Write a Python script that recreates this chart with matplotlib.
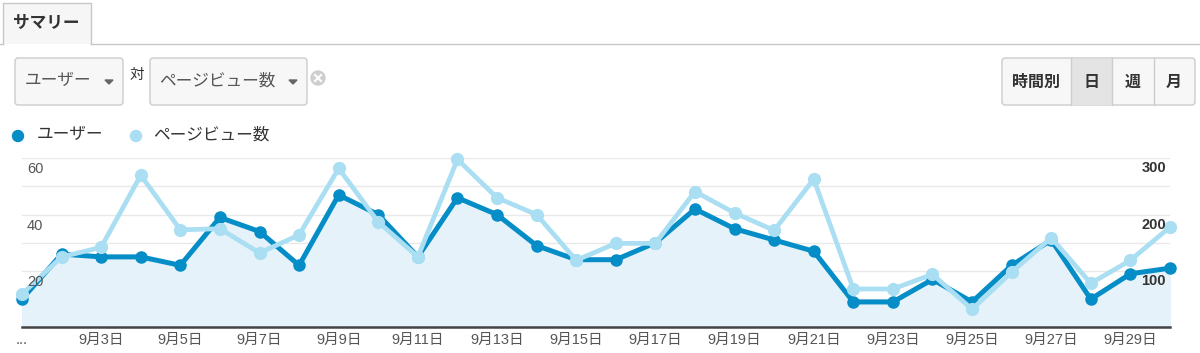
import matplotlib
matplotlib.use("Agg")
import matplotlib.pyplot as plt
from matplotlib.patches import FancyBboxPatch, Rectangle, Polygon, Circle

plt.rcParams["font.family"] = ["Noto Sans CJK JP", "DejaVu Sans"]
NUM_FONT = ["Liberation Sans", "Noto Sans CJK JP"]

# daily values, 9/1 - 9/30
DAYS = list(range(1, 31))
USERS = [10, 26, 25, 25, 22, 39, 34, 22, 47, 40, 25, 46, 40, 29, 24,
         24, 30, 42, 35, 31, 27, 9, 9, 17, 9, 22, 31, 10, 19, 21]
PAGEVIEWS = [59, 125, 142, 270, 173, 175, 132, 164, 282, 187, 125, 298, 230, 200, 119,
             149, 149, 241, 203, 172, 263, 68, 68, 94, 32, 98, 159, 78, 119, 178]

TICK_DAYS = [1] + list(range(3, 30, 2))
TICK_LABELS = ["..."] + [f"9月{d}日" for d in range(3, 30, 2)]
LEFT_TICKS = [20, 40, 60]
RIGHT_TICKS = [100, 200, 300]

DARK = "#058dc7"
LIGHT = "#aadef2"
FILL = "#e5f2f9"

W, H = 1200, 353
fig = plt.figure(figsize=(W / 100, H / 100), dpi=100)
fig.patch.set_facecolor("white")

# ---- chart ----
x0, x1, ytop, ybot = 22, 1170, 158.3, 327.3
ax = fig.add_axes([x0 / W, 1 - ybot / H, (x1 - x0) / W, (ybot - ytop) / H])
ax.set_xlim(DAYS[0], DAYS[-1])
ax.set_ylim(0, 60)
ax.set_yticks(range(0, 61, 10))
ax.yaxis.grid(True, color="#e9e9e9", lw=1)
ax.set_axisbelow(True)
ax.tick_params(axis="y", length=0, labelleft=False)
ax.set_xticks(TICK_DAYS)
ax.set_xticklabels(TICK_LABELS, fontsize=10.5, color="#555", family=NUM_FONT)
ax.tick_params(axis="x", length=0, pad=4)
for s in ["top", "left", "right"]:
    ax.spines[s].set_visible(False)
ax.spines["bottom"].set_color("#444")
ax.spines["bottom"].set_linewidth(1.8)
ax.spines["bottom"].set_zorder(5)

ax.fill_between(DAYS, USERS, 0, color=FILL, zorder=1)
ax.plot(DAYS, USERS, color=DARK, lw=3.6, marker="o", ms=8,
        clip_on=False, zorder=3)

ax2 = ax.twinx()
ax2.set_ylim(0, 300)
ax2.set_yticks([])
for s in ax2.spines.values():
    s.set_visible(False)
ax2.plot(DAYS, PAGEVIEWS, color=LIGHT, lw=3.4, marker="o", ms=8.5,
         clip_on=False, zorder=4)

# axis value labels sit inside the plot, on top of the lines
for v in LEFT_TICKS:
    ax2.annotate(str(v), xy=(0, v), xycoords=("axes fraction", ax.transData),
                 xytext=(5, -11), textcoords="offset pixels",
                 ha="left", va="center", fontsize=10.5, color="#555",
                 family=NUM_FONT, zorder=6)
for v in RIGHT_TICKS:
    ax2.annotate(str(v), xy=(1, v), xycoords=("axes fraction", "data"),
                 xytext=(-4, -10), textcoords="offset pixels",
                 ha="right", va="center", fontsize=10.5, color="#333",
                 fontweight="bold", family=NUM_FONT, zorder=6)

# ---- page UI around the chart ----
ui = fig.add_axes([0, 0, 1, 1], zorder=-1)
ui.set_xlim(0, W)
ui.set_ylim(H, 0)
ui.axis("off")

# tab
ui.add_patch(Rectangle((3, 3), 88, 41, facecolor="#f6f6f6", edgecolor="none"))
ui.plot([3, 3, 91, 91], [44, 3, 3, 44], color="#c8c8c8", lw=1)
ui.plot([0, 3], [44, 44], color="#c8c8c8", lw=1)
ui.plot([91, W], [44, 44], color="#c8c8c8", lw=1)
ui.text(13, 23, "サマリー", fontsize=12, fontweight="bold", color="#333",
        ha="left", va="center")


def box(x, y, w, h, fc):
    ui.add_patch(FancyBboxPatch((x, y), w, h,
                                boxstyle="round,pad=0,rounding_size=3",
                                facecolor=fc, edgecolor="#cccccc", lw=1))


def arrow(x, y):
    ui.add_patch(Polygon([[x - 4, y - 2], [x + 4, y - 2], [x, y + 2]],
                         closed=True, color="#666"))


# metric selectors
box(15, 58, 108, 47, "#f7f7f7")
ui.text(25, 81, "ユーザー", fontsize=12, color="#555", ha="left", va="center")
arrow(109, 82)
ui.text(129, 75, "対", fontsize=10.5, color="#333", ha="left", va="center")
box(150, 58, 157, 47, "#f7f7f7")
ui.text(159, 81, "ページビュー数", fontsize=12, color="#555", ha="left", va="center")
arrow(293, 82)
ui.add_patch(Circle((318, 78), 7, color="#cfcfcf"))
ui.plot([315, 321], [75, 81], color="white", lw=1.5)
ui.plot([315, 321], [81, 75], color="white", lw=1.5)

# time granularity buttons
box(1002, 58, 193, 47, "#f7f7f7")
ui.add_patch(Rectangle((1071, 58.5), 41, 46, facecolor="#e4e4e4", edgecolor="none"))
for xd in [1071, 1112, 1154]:
    ui.plot([xd, xd], [58, 105], color="#cccccc", lw=1)
for xc, lab in [(1036, "時間別"), (1091, "日"), (1133, "週"), (1174, "月")]:
    ui.text(xc, 82, lab, fontsize=11.5, fontweight="bold", color="#333",
            ha="center", va="center")

# legend
ui.add_patch(Circle((18, 136), 5.5, color=DARK))
ui.text(37, 135, "ユーザー", fontsize=12, color="#333", ha="left", va="center")
ui.add_patch(Circle((136, 136), 5.5, color=LIGHT))
ui.text(153, 135, "ページビュー数", fontsize=12, color="#333", ha="left", va="center")

fig.savefig("out.png", dpi=100)
